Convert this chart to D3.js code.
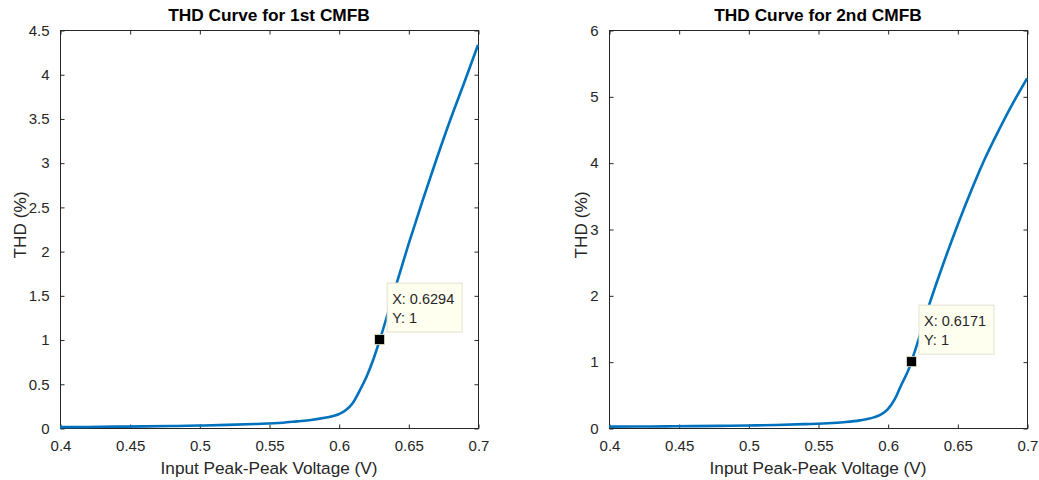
<!DOCTYPE html>
<html>
<head>
<meta charset="utf-8">
<script src="https://cdn.jsdelivr.net/npm/d3@7"></script>
<style>
  html, body { margin: 0; padding: 0; background: #ffffff; }
  svg { display: block; font-family: "Liberation Sans", Arial, sans-serif; }
</style>
</head>
<body>
<svg id="chart" width="1039" height="480"></svg>
<script>
// ---------------- data ----------------
const xTickValues = [0.4, 0.45, 0.5, 0.55, 0.6, 0.65, 0.7];
const xTickLabels = ["0.4", "0.45", "0.5", "0.55", "0.6", "0.65", "0.7"];

const yTicks1 = [0, 0.5, 1, 1.5, 2, 2.5, 3, 3.5, 4, 4.5];
const yTickLabels1 = ["0", "0.5", "1", "1.5", "2", "2.5", "3", "3.5", "4", "4.5"];
const yTicks2 = [0, 1, 2, 3, 4, 5, 6];
const yTickLabels2 = ["0", "1", "2", "3", "4", "5", "6"];

const titles = ["THD Curve for 1st CMFB", "THD Curve for 2nd CMFB"];
const xLabel = "Input Peak-Peak Voltage (V)";
const yLabel = "THD (%)";

// 1st CMFB
const vin1 = [0.40, 0.42, 0.44, 0.46, 0.48, 0.50, 0.52, 0.54, 0.56, 0.57, 0.58, 0.59, 0.60, 0.605, 0.61, 0.615, 0.62, 0.625, 0.63, 0.64, 0.65, 0.66, 0.67, 0.68, 0.69, 0.70];
const thd1 = [0.010, 0.012, 0.015, 0.018, 0.022, 0.028, 0.035, 0.045, 0.060, 0.075, 0.090, 0.115, 0.155, 0.20, 0.28, 0.42, 0.58, 0.78, 1.02, 1.55, 2.07, 2.56, 3.03, 3.48, 3.90, 4.33];

// 2nd CMFB
const vin2 = [0.40, 0.42, 0.44, 0.46, 0.48, 0.50, 0.52, 0.54, 0.56, 0.57, 0.58, 0.59, 0.595, 0.60, 0.605, 0.61, 0.615, 0.62, 0.63, 0.64, 0.65, 0.66, 0.67, 0.68, 0.69, 0.70];
const thd2 = [0.020, 0.022, 0.025, 0.028, 0.032, 0.038, 0.045, 0.058, 0.075, 0.090, 0.115, 0.160, 0.20, 0.28, 0.43, 0.66, 0.88, 1.19, 1.87, 2.48, 3.05, 3.58, 4.07, 4.50, 4.90, 5.27];

// data tips
const tipX = [0.6294, 0.6171];
const tipY = [1, 1];

// ---------------- drawing ----------------
const svg = d3.select("#chart");
const axisColor = "#262626";
const lineColor = "#0072BD";

const panels = [
  { left: 60, right: 478, top: 30, bottom: 428, yMax: 4.5, yTicks: yTicks1, yLabels: yTickLabels1,
    xs: vin1, ys: thd1, title: titles[0], tx: tipX[0], ty: tipY[0], yLabelX: 20 },
  { left: 609, right: 1027, top: 30, bottom: 428, yMax: 6, yTicks: yTicks2, yLabels: yTickLabels2,
    xs: vin2, ys: thd2, title: titles[1], tx: tipX[1], ty: tipY[1], yLabelX: 581 }
];

panels.forEach(p => {
  const x = d3.scaleLinear().domain([0.4, 0.7]).range([p.left, p.right]);
  const y = d3.scaleLinear().domain([0, p.yMax]).range([p.bottom, p.top]);
  const g = svg.append("g");
  const tickLen = 4;

  // box
  g.append("rect")
    .attr("x", p.left + 0.5).attr("y", p.top + 0.5)
    .attr("width", p.right - p.left).attr("height", p.bottom - p.top)
    .attr("fill", "none").attr("stroke", axisColor).attr("stroke-width", 1);

  // axes with inward ticks
  const xAxisB = d3.axisBottom(x).tickValues(xTickValues)
    .tickFormat((d, i) => xTickLabels[i]).tickSizeInner(-tickLen).tickSizeOuter(0).tickPadding(12);
  const gxB = g.append("g").attr("transform", `translate(0.5,${p.bottom + 0.5})`).call(xAxisB);
  const xAxisT = d3.axisTop(x).tickValues(xTickValues).tickFormat("").tickSizeInner(-tickLen).tickSizeOuter(0);
  const gxT = g.append("g").attr("transform", `translate(0.5,${p.top + 0.5})`).call(xAxisT);

  const yAxisL = d3.axisLeft(y).tickValues(p.yTicks)
    .tickFormat((d, i) => p.yLabels[i]).tickSizeInner(-tickLen).tickSizeOuter(0).tickPadding(11);
  const gyL = g.append("g").attr("transform", `translate(${p.left + 0.5},0.5)`).call(yAxisL);
  const yAxisR = d3.axisRight(y).tickValues(p.yTicks).tickFormat("").tickSizeInner(-tickLen).tickSizeOuter(0);
  const gyR = g.append("g").attr("transform", `translate(${p.right + 0.5},0.5)`).call(yAxisR);

  [gxB, gxT, gyL, gyR].forEach(a => {
    a.select(".domain").remove();
    a.selectAll(".tick line").attr("stroke", axisColor);
    a.selectAll(".tick text").attr("fill", axisColor)
      .style("font-family", '"Liberation Sans", Arial, sans-serif').style("font-size", "15px");
  });

  // curve
  const pts = p.xs.map((v, i) => [v, p.ys[i]]);
  g.append("path")
    .datum(pts)
    .attr("fill", "none")
    .attr("stroke", lineColor)
    .attr("stroke-width", 2.6)
    .attr("stroke-linejoin", "round")
    .attr("d", d3.line().x(d => x(d[0])).y(d => y(d[1])).curve(d3.curveMonotoneX));

  // title
  g.append("text")
    .attr("x", (p.left + p.right) / 2).attr("y", 21)
    .attr("text-anchor", "middle")
    .attr("fill", "#000").style("font-weight", "bold").style("font-size", "17.3px")
    .text(p.title);

  // x label
  g.append("text")
    .attr("x", (p.left + p.right) / 2).attr("y", 474)
    .attr("text-anchor", "middle")
    .attr("fill", axisColor).style("font-size", "17.2px")
    .text(xLabel);

  // y label
  g.append("text")
    .attr("transform", `translate(${p.yLabelX + 6},${(p.top + p.bottom) / 2 - 4}) rotate(-90)`)
    .attr("text-anchor", "middle")
    .attr("fill", axisColor).style("font-size", "17.2px")
    .text(yLabel);

  // data tip
  const mx = x(p.tx), my = y(p.ty);
  const tip = g.append("g");
  tip.append("rect")
    .attr("x", mx + 7.5).attr("y", my - 56.5)
    .attr("width", 75).attr("height", 49)
    .attr("fill", "#fffff0").attr("stroke", "#e2e2d0").attr("stroke-width", 1);
  tip.append("text")
    .attr("x", mx + 12.5).attr("y", my - 35.5)
    .attr("fill", "#262626").style("font-size", "14.5px")
    .text("X: " + p.tx.toFixed(4));
  tip.append("text")
    .attr("x", mx + 12.5).attr("y", my - 16.5)
    .attr("fill", "#262626").style("font-size", "14.5px")
    .text("Y: " + p.ty);
  tip.append("rect")
    .attr("x", mx - 5).attr("y", my - 5)
    .attr("width", 10).attr("height", 10)
    .attr("fill", "#000").attr("stroke", "#e8e8c8").attr("stroke-width", 0.8);
});
</script>
</body>
</html>
